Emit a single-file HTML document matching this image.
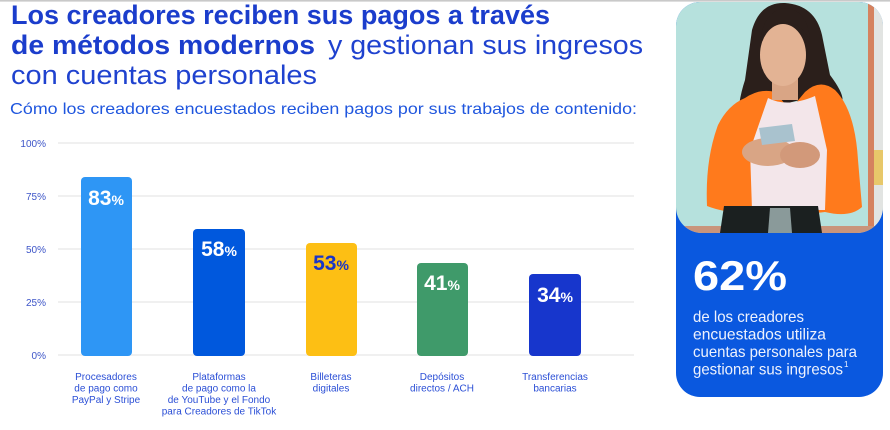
<!DOCTYPE html>
<html><head><meta charset="utf-8"><style>
html,body{margin:0;padding:0;background:#fff;}
svg{display:block;}
text{font-family:"Liberation Sans",sans-serif;}
</style></head><body>
<svg width="890" height="430" viewBox="0 0 890 430" xmlns="http://www.w3.org/2000/svg">
<rect x="0" y="0" width="890" height="430" fill="#fff"/>
<rect x="0" y="0" width="890" height="1.6" fill="#c9c9c9"/>

<!-- Title -->
<text x="11" y="24" font-size="27" font-weight="bold" fill="#1b3dcc" textLength="539" lengthAdjust="spacingAndGlyphs">Los creadores reciben sus pagos a través</text>
<text x="11" y="54" font-size="27" font-weight="bold" fill="#1b3dcc" textLength="304" lengthAdjust="spacingAndGlyphs">de métodos modernos</text>
<text x="328" y="54" font-size="27" fill="#1f42cf" textLength="315" lengthAdjust="spacingAndGlyphs">y gestionan sus ingresos</text>
<text x="11" y="84" font-size="27" fill="#1f42cf" textLength="306" lengthAdjust="spacingAndGlyphs">con cuentas personales</text>
<text x="10" y="114" font-size="16" fill="#1f56de" textLength="627" lengthAdjust="spacingAndGlyphs">Cómo los creadores encuestados reciben pagos por sus trabajos de contenido:</text>

<!-- Gridlines -->
<g stroke="#ececec" stroke-width="1.5">
<line x1="58" y1="143" x2="634" y2="143"/>
<line x1="58" y1="196" x2="634" y2="196"/>
<line x1="58" y1="249" x2="634" y2="249"/>
<line x1="58" y1="302" x2="634" y2="302"/>
<line x1="58" y1="355" x2="634" y2="355"/>
</g>
<g font-size="10" fill="#3d55c8" text-anchor="end">
<text x="46" y="147">100%</text>
<text x="46" y="200">75%</text>
<text x="46" y="253">50%</text>
<text x="46" y="306">25%</text>
<text x="46" y="359">0%</text>
</g>

<!-- Bars -->
<rect x="81" y="177" width="51" height="179" rx="4" fill="#2e96f5"/>
<rect x="193" y="229" width="52" height="127" rx="4" fill="#0058dd"/>
<rect x="306" y="243" width="51" height="113" rx="4" fill="#fdbf14"/>
<rect x="417" y="263" width="51" height="93" rx="4" fill="#3f9a6a"/>
<rect x="529" y="274" width="52" height="82" rx="4" fill="#1736cc"/>

<g font-weight="bold" text-anchor="middle">
<text x="106" y="205" fill="#fff"><tspan font-size="21">83</tspan><tspan font-size="14">%</tspan></text>
<text x="219" y="256" fill="#fff"><tspan font-size="21">58</tspan><tspan font-size="14">%</tspan></text>
<text x="331" y="270" fill="#1a35c8"><tspan font-size="21">53</tspan><tspan font-size="14">%</tspan></text>
<text x="442" y="290" fill="#fff"><tspan font-size="21">41</tspan><tspan font-size="14">%</tspan></text>
<text x="555" y="302" fill="#fff"><tspan font-size="21">34</tspan><tspan font-size="14">%</tspan></text>
</g>

<!-- Category labels -->
<g font-size="10" fill="#2b4fd6" text-anchor="middle">
<text x="106" y="380">Procesadores</text>
<text x="106" y="391.5">de pago como</text>
<text x="106" y="403">PayPal y Stripe</text>
<text x="219" y="380">Plataformas</text>
<text x="219" y="391.5">de pago como la</text>
<text x="219" y="403">de YouTube y el Fondo</text>
<text x="219" y="414.5">para Creadores de TikTok</text>
<text x="331" y="380">Billeteras</text>
<text x="331" y="391.5">digitales</text>
<text x="442" y="380">Depósitos</text>
<text x="442" y="391.5">directos / ACH</text>
<text x="555" y="380">Transferencias</text>
<text x="555" y="391.5">bancarias</text>
</g>

<!-- Right card -->
<defs>
<clipPath id="card"><rect x="676" y="2" width="207" height="395" rx="24"/></clipPath>
<clipPath id="photo"><rect x="676" y="-30" width="207" height="263" rx="26"/></clipPath>
</defs>
<g clip-path="url(#card)">
<rect x="676" y="2" width="207" height="395" fill="#0a58df"/>
<g clip-path="url(#photo)">
<rect x="676" y="0" width="207" height="233" fill="#b6e1dd"/>
<rect x="868" y="0" width="6" height="233" fill="#d5825f"/>
<rect x="874" y="0" width="9" height="233" fill="#e2e4e2"/>
<rect x="874" y="150" width="9" height="35" fill="#e8c86a"/>
<rect x="676" y="226" width="207" height="8" fill="#c9957c"/>
<!-- hair back -->
<path d="M752 30 Q760 2 785 3 Q815 5 822 35 L830 75 Q845 95 842 102 L800 100 L760 110 Q745 140 738 145 Q735 110 745 80 Z" fill="#2b1f1b"/>
<!-- jacket -->
<path d="M745 98 Q760 88 775 92 L790 110 L805 92 Q820 78 835 90 Q855 110 858 160 L862 207 Q850 218 825 212 L800 215 L760 212 Q730 215 707 206 Q705 160 718 125 Q728 105 745 98 Z" fill="#ff7a1c"/>
<!-- shirt -->
<path d="M768 98 Q787 108 815 96 L827 150 L825 210 L752 210 L750 150 Z" fill="#f3e6ea"/>
<!-- neck & face -->
<rect x="772" y="70" width="26" height="30" fill="#d9a585"/>
<ellipse cx="783" cy="55" rx="23" ry="31" fill="#e3b394"/>
<path d="M760 40 Q765 10 785 8 Q808 10 810 40 Q800 22 785 22 Q768 24 760 40 Z" fill="#2b1f1b"/>
<!-- hands -->
<ellipse cx="768" cy="152" rx="26" ry="14" fill="#d9a585"/>
<ellipse cx="800" cy="155" rx="20" ry="13" fill="#d2997a"/>
<!-- phone -->
<path d="M759 128 L792 124 L795 141 L762 145 Z" fill="#a9c2ce"/>
<!-- pants -->
<path d="M724 206 L818 206 L822 233 L720 233 Z" fill="#1b2020"/>
<path d="M770 208 L790 208 L792 233 L768 233 Z" fill="#8a9a9a"/>
</g>
</g>
<text x="693" y="290" font-size="42" font-weight="bold" fill="#fff" textLength="94" lengthAdjust="spacingAndGlyphs">62%</text>
<g font-size="16" fill="#eef2fd">
<text x="693" y="322" textLength="111" lengthAdjust="spacingAndGlyphs">de los creadores</text>
<text x="693" y="339.5" textLength="133" lengthAdjust="spacingAndGlyphs">encuestados utiliza</text>
<text x="693" y="357" textLength="164" lengthAdjust="spacingAndGlyphs">cuentas personales para</text>
<text x="693" y="374.5" textLength="150" lengthAdjust="spacingAndGlyphs">gestionar sus ingresos</text>
<text x="844" y="367" font-size="8">1</text>
</g>
</svg>
</body></html>
